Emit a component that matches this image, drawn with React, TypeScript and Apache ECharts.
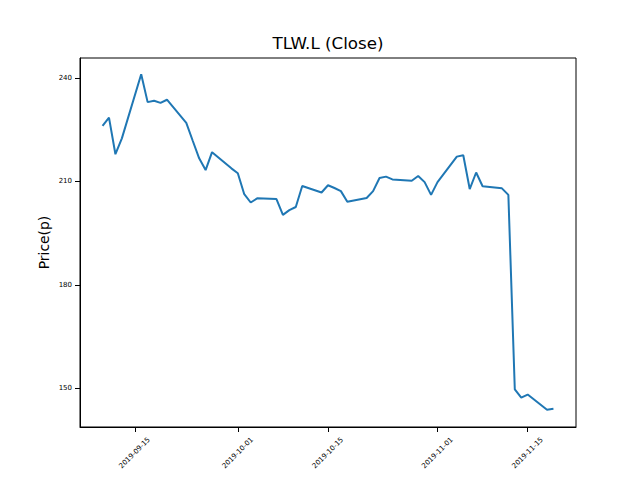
import React, { useEffect, useRef } from "react";
import * as echarts from "echarts";

const dates: string[] = [
  "2019-09-10", "2019-09-11", "2019-09-12", "2019-09-13", "2019-09-16", "2019-09-17",
  "2019-09-18", "2019-09-19", "2019-09-20", "2019-09-23", "2019-09-24", "2019-09-25",
  "2019-09-26", "2019-09-27", "2019-09-30", "2019-10-01", "2019-10-02", "2019-10-03",
  "2019-10-04", "2019-10-07", "2019-10-08", "2019-10-09", "2019-10-10", "2019-10-11",
  "2019-10-14", "2019-10-15", "2019-10-16", "2019-10-17", "2019-10-18", "2019-10-21",
  "2019-10-22", "2019-10-23", "2019-10-24", "2019-10-25", "2019-10-28", "2019-10-29",
  "2019-10-30", "2019-10-31", "2019-11-01", "2019-11-04", "2019-11-05", "2019-11-06",
  "2019-11-07", "2019-11-08", "2019-11-11", "2019-11-12", "2019-11-13", "2019-11-14",
  "2019-11-15", "2019-11-18", "2019-11-19",
];

const closes: number[] = [
  226.1, 228.5, 217.9, 222.5, 241.1, 233.0,
  233.4, 232.8, 233.7, 227.0, 221.8, 216.7,
  213.3, 218.5, 213.8, 212.4, 206.3, 203.9,
  205.1, 204.9, 200.3, 201.7, 202.6, 208.7,
  206.8, 208.9, 208.1, 207.2, 204.1, 205.2,
  207.2, 211.0, 211.4, 210.6, 210.2, 211.6,
  209.8, 206.1, 209.8, 217.2, 217.6, 207.8,
  212.6, 208.6, 208.0, 206.1, 149.7, 147.3,
  148.2, 143.8, 144.1,
];

const xTickLabels: string[] = ["2019-09-15", "2019-10-01", "2019-10-15", "2019-11-01", "2019-11-15"];
const yTickValues: number[] = [150, 180, 210, 240];

const ts = (d: string) => Date.UTC(+d.slice(0, 4), +d.slice(5, 7) - 1, +d.slice(8, 10));

export default function App() {
  const ref = useRef<HTMLDivElement>(null);
  useEffect(() => {
    if (!ref.current) return;
    const chart = echarts.init(ref.current, undefined, { renderer: "svg" });
    const first = ts(dates[0]);
    const last = ts(dates[dates.length - 1]);
    const pad = (last - first) * 0.05;
    const font = "DejaVu Sans";
    chart.setOption({
      animation: false,
      backgroundColor: "#ffffff",
      grid: {
        left: 80,
        right: 64,
        top: 58,
        bottom: 53,
        show: true,
        borderColor: "#000",
        borderWidth: 1,
        backgroundColor: "transparent",
      },
      graphic: [
        {
          type: "text",
          x: 328,
          y: 51,
          style: {
            text: "TLW.L (Close)",
            fontFamily: font,
            fontSize: 16.7,
            fill: "#000",
            align: "center",
            verticalAlign: "bottom",
          },
        },
      ],
      xAxis: {
        type: "value",
        min: first - pad,
        max: last + pad,
        splitLine: { show: false },
        axisLine: { show: true, lineStyle: { color: "#000", width: 1 } },
        axisTick: {
          show: true,
          length: 5,
          lineStyle: { color: "#000", width: 1 },
          customValues: xTickLabels.map(ts),
        },
        axisLabel: {
          customValues: xTickLabels.map(ts),
          formatter: (v: number) => {
            const d = new Date(v);
            const mm = String(d.getUTCMonth() + 1).padStart(2, "0");
            const dd = String(d.getUTCDate()).padStart(2, "0");
            return `${d.getUTCFullYear()}-${mm}-${dd}`;
          },
          rotate: 45,
          align: "center",
          verticalAlign: "middle",
          margin: 26,
          fontFamily: font,
          fontSize: 7,
          color: "#000",
          hideOverlap: false,
        },
      },
      yAxis: {
        type: "value",
        min: 138.8,
        max: 245.8,
        name: "Price(p)",
        nameLocation: "middle",
        nameRotate: 90,
        nameGap: 29,
        nameMoveOverlap: false,
        nameTextStyle: { fontFamily: font, fontSize: 13.9, color: "#000" },
        splitLine: { show: false },
        axisLine: { show: true, lineStyle: { color: "#000", width: 1 } },
        axisTick: {
          show: true,
          length: 5,
          lineStyle: { color: "#000", width: 1 },
          customValues: yTickValues,
        },
        axisLabel: {
          customValues: yTickValues,
          margin: 8,
          fontFamily: font,
          fontSize: 7,
          color: "#000",
        },
      },
      series: [
        {
          type: "line",
          data: dates.map((d, i) => [ts(d), closes[i]]),
          showSymbol: false,
          symbol: "none",
          lineStyle: { color: "#1f77b4", width: 2 },
          itemStyle: { color: "#1f77b4" },
        },
      ],
    });
    return () => chart.dispose();
  }, []);
  return (
    <div
      ref={ref}
      style={{ position: "fixed", left: 0, top: 0, width: 640, height: 480, background: "#fff" }}
    />
  );
}
